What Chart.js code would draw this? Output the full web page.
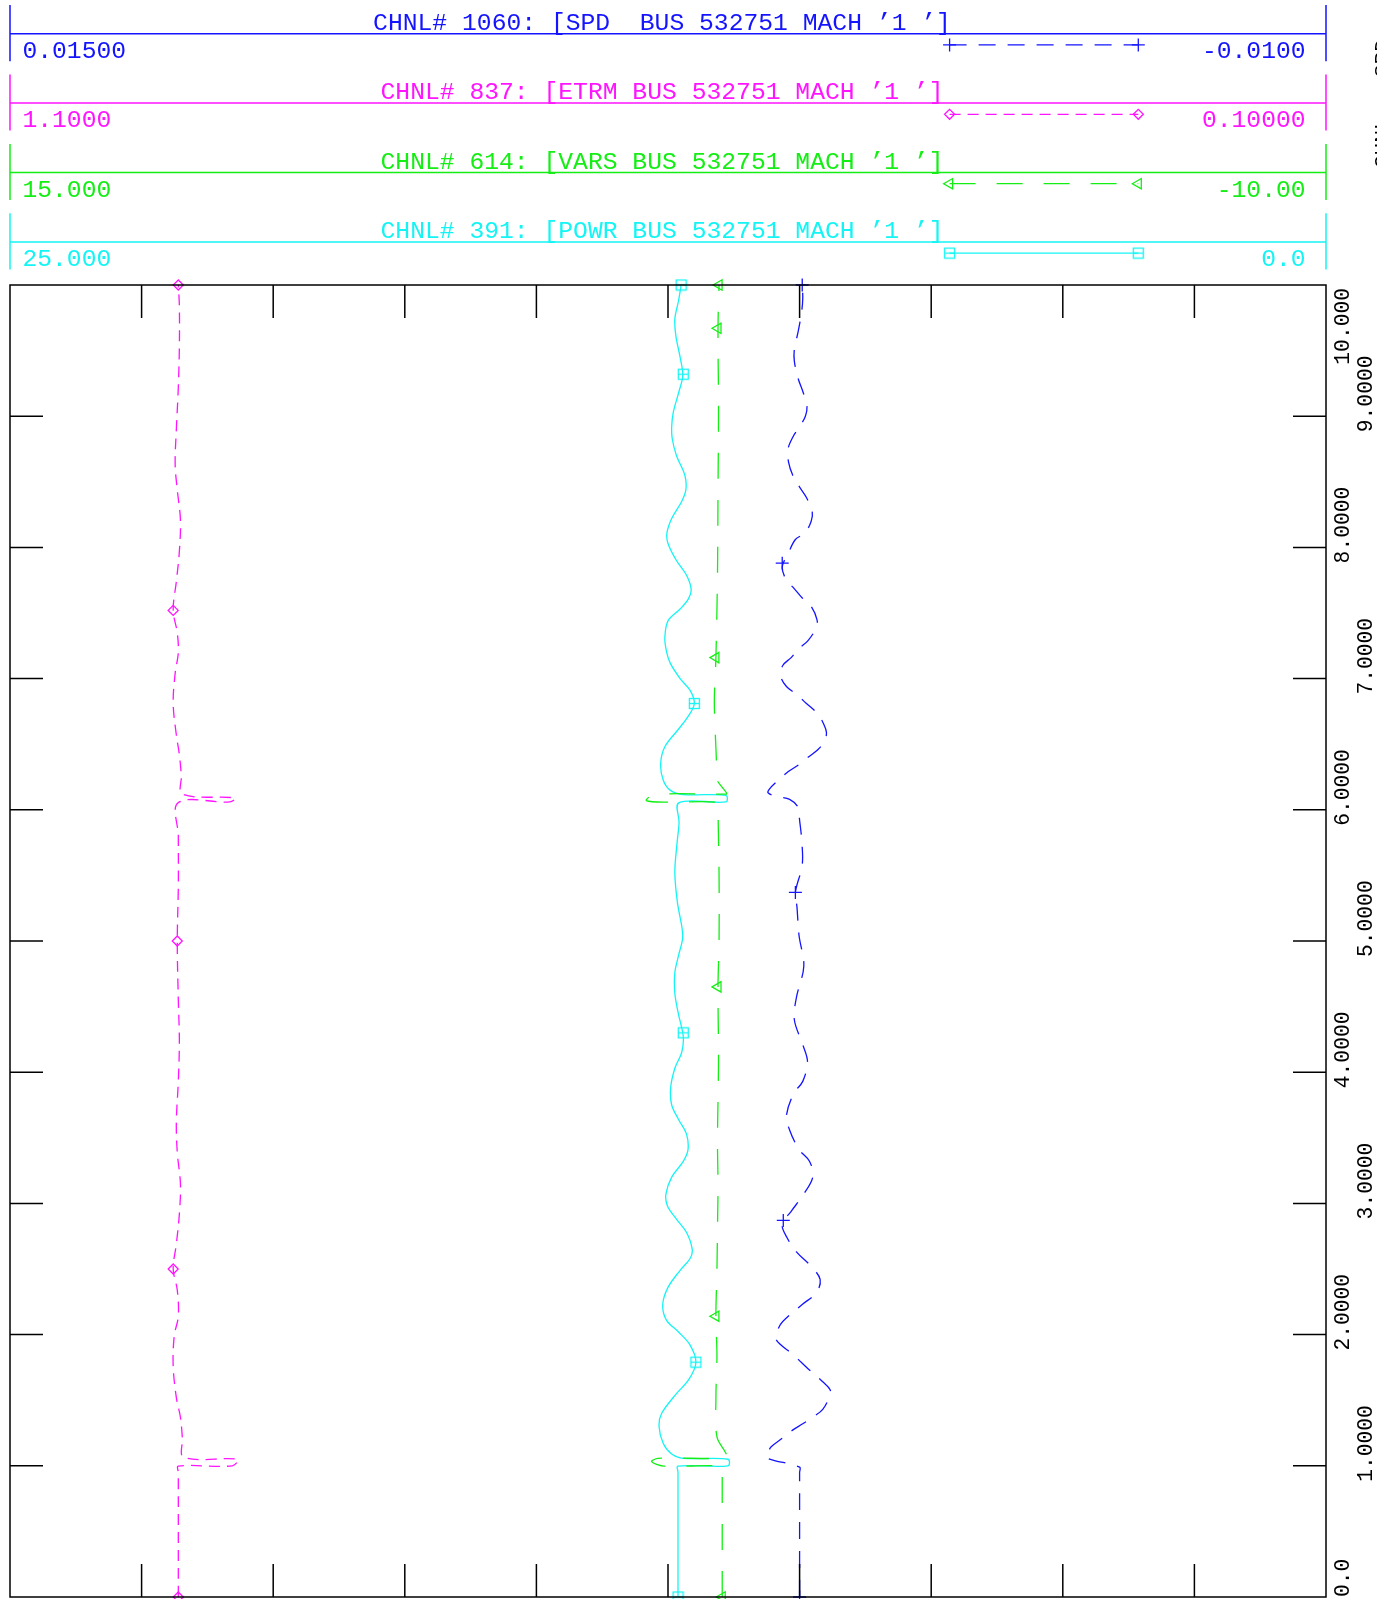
<!DOCTYPE html>
<html>
<head>
<meta charset="utf-8">
<title>CHNL plot</title>
<script src="https://cdn.jsdelivr.net/npm/chart.js@4.4.1/dist/chart.umd.min.js"></script>
<style>
  html, body { margin: 0; padding: 0; background: #fff; }
  #plot { display: block; }
</style>
</head>
<body>
<canvas id="plot" width="1377" height="1599"></canvas>
<script>
// channel header
var channelTitles = [
  "CHNL# 1060: [SPD  BUS 532751 MACH \u20191 \u2019]",
  "CHNL# 837: [ETRM BUS 532751 MACH \u20191 \u2019]",
  "CHNL# 614: [VARS BUS 532751 MACH \u20191 \u2019]",
  "CHNL# 391: [POWR BUS 532751 MACH \u20191 \u2019]"
];
var channelLeft = ['0.01500', '1.1000', '15.000', '25.000'];
var channelRight = ['-0.0100', '0.10000', '-10.00', '0.0'];
var axisLeft = [0.015, 1.1, 15, 25];
var axisRight = [-0.01, 0.1, -10, 0];

// time axis (seconds), drawn vertically
var timeTicks = [0, 1, 2, 3, 4, 5, 6, 7, 8, 9, 10];
var timeTickLabels = ['0.0', '1.0000', '2.0000', '3.0000', '4.0000', '5.0000', '6.0000', '7.0000', '8.0000', '9.0000', '10.000'];

// SPD
var spdTime = [0, 0.95, 0.99, 1.061, 1.10, 1.145, 1.21, 1.27, 1.32, 1.37, 1.43, 1.53, 1.58, 1.64, 1.74, 1.85, 1.93, 1.98, 2.05, 2.10,
  2.23, 2.32, 2.42, 2.52, 2.63, 2.74, 2.84, 2.94, 3.06, 3.20, 3.32, 3.41, 3.56, 3.67, 3.84, 3.93, 4.08, 4.21, 4.40, 4.57,
  4.81, 5.04, 5.26, 5.37, 5.58, 5.77, 5.92, 6.02, 6.08, 6.10, 6.13, 6.16, 6.22, 6.29, 6.34, 6.40, 6.46, 6.52, 6.59, 6.66,
  6.73, 6.81, 6.88, 6.94, 7.02, 7.10, 7.16, 7.23, 7.29, 7.39, 7.45, 7.55, 7.61, 7.69, 7.75, 7.85, 7.95, 8.06, 8.11, 8.20,
  8.27, 8.38, 8.46, 8.55, 8.65, 8.75, 8.84, 8.92, 9.00, 9.08, 9.19, 9.29, 9.42, 9.51, 9.64, 9.80, 9.90, 10.0];
var spdValue = [0, 0, 0, 0.00063, 0.00060, 0.00054, 0.00033, 0.00014, -0.00006, -0.00025, -0.00044, -0.00057, -0.00058, -0.00044, -0.00016, 0.00013, 0.00038, 0.00046, 0.00040, 0.00032,
  -0.00005, -0.00032, -0.00039, -0.00022, 0.00006, 0.00024, 0.00033, 0.00016, -0.00006, -0.00025, -0.00019, 0.00001, 0.00019, 0.00025, 0.00011, -0.00006, -0.00015, -0.00006, 0.00010, 0.00006,
  -0.00008, 0.00001, 0.00005, 0.00008, -0.00005, -0.00004, 0, 0.00003, 0.00019, 0.00042, 0.00060, 0.00057, 0.00042, 0.00022, 0.00003, -0.00016, -0.00035, -0.00047, -0.00051, -0.00045,
  -0.00035, -0.00013, 0.00006, 0.00025, 0.00036, 0.00032, 0.00016, 0.00001, -0.00016, -0.00032, -0.00033, -0.00022, -0.00006, 0.00011, 0.00025, 0.00033, 0.00022, 0.00008, -0.00010, -0.00022,
  -0.00024, -0.00013, 0, 0.00013, 0.00021, 0.00022, 0.00013, 0, -0.00011, -0.00014, -0.00006, 0.00003, 0.00010, 0.00010, 0.00003, -0.00004, -0.00006, -0.00005];
var spdMarkTime = [0, 2.87, 5.37, 7.88, 10];
var spdMarkValue = [0, 0.00031, 0.00008, 0.00033, -0.00005];

// ETRM
var etrmTime = [0, 0.95, 0.998, 1.0, 1.05, 1.065, 1.21, 1.37, 1.52, 1.76, 1.99, 2.14, 2.34, 2.50, 2.69, 2.92, 3.15, 3.39, 3.62, 3.93,
  4.24, 4.55, 5.0, 5.41, 5.80, 6.055, 6.06, 6.09, 6.12, 6.26, 6.42, 6.57, 6.81, 7.04, 7.20, 7.35, 7.52, 7.74, 7.97, 8.21,
  8.44, 8.63, 8.90, 9.22, 9.53, 9.84, 10];
var etrmValue = [0.9721, 0.9721, 0.9721, 0.931, 0.927, 0.968, 0.969, 0.9705, 0.9736, 0.976, 0.9752, 0.9721, 0.9729, 0.976, 0.9736, 0.9713, 0.9705, 0.9729, 0.9736, 0.9721,
  0.9713, 0.9721, 0.9729, 0.9721, 0.9721, 0.9721, 0.933, 0.929, 0.969, 0.9698, 0.9713, 0.9736, 0.976, 0.9745, 0.9721, 0.9729, 0.976, 0.9736, 0.9713, 0.9705,
  0.9729, 0.9745, 0.9736, 0.9721, 0.9713, 0.9713, 0.9721];
var etrmMarkTime = [0, 2.50, 5.0, 7.52, 10];
var etrmMarkValue = [0.9721, 0.976, 0.9729, 0.976, 0.9721];

// VARS
var varsTime = [0, 0.95, 0.996, 0.998, 1.031, 1.057, 1.06, 1.095, 1.22, 1.51, 1.84, 2.14, 2.49, 2.81, 3.14, 3.46, 3.79, 4.11, 4.65, 5.0,
  5.5, 6.0, 6.055, 6.058, 6.07, 6.116, 6.12, 6.13, 6.245, 6.35, 6.57, 6.83, 7.16, 7.79, 8.43, 9.07, 9.67, 10];
var varsValue = [1.47, 1.47, 1.47, 2.58, 2.81, 2.69, 1.40, 1.40, 1.57, 1.59, 1.57, 1.59, 1.57, 1.56, 1.55, 1.56, 1.55, 1.54, 1.55, 1.53,
  1.53, 1.55, 1.55, 2.46, 2.91, 2.75, 1.39, 1.39, 1.59, 1.58, 1.60, 1.62, 1.59, 1.56, 1.55, 1.54, 1.55, 1.53];
var varsMarkTime = [0, 2.14, 4.65, 7.16, 9.67, 10];
var varsMarkValue = [1.47, 1.59, 1.55, 1.59, 1.55, 1.53];

// POWR
var powrTime = [0, 0.95, 0.998, 1.0, 1.05, 1.057, 1.09, 1.17, 1.30, 1.40, 1.55, 1.66, 1.79, 1.92, 2.02, 2.11, 2.23, 2.36, 2.49, 2.58,
  2.65, 2.78, 2.88, 2.98, 3.07, 3.20, 3.32, 3.41, 3.53, 3.64, 3.75, 3.88, 4.03, 4.15, 4.27, 4.44, 4.60, 4.76, 4.89, 5.04,
  5.29, 5.52, 5.74, 5.90, 6.055, 6.06, 6.11, 6.116, 6.15, 6.225, 6.35, 6.48, 6.61, 6.71, 6.81, 6.91, 7.00, 7.12, 7.21, 7.31,
  7.44, 7.53, 7.61, 7.68, 7.79, 7.90, 8.03, 8.11, 8.22, 8.35, 8.44, 8.55, 8.70, 8.83, 8.92, 9.03, 9.19, 9.31, 9.45, 9.61,
  9.74, 9.88, 10.0];
var powrValue = [12.31, 12.31, 12.31, 11.36, 11.36, 12.21, 12.43, 12.59, 12.67, 12.62, 12.34, 12.10, 11.97, 12.08, 12.30, 12.53, 12.60, 12.50, 12.27, 12.08,
  12.04, 12.15, 12.34, 12.51, 12.54, 12.43, 12.21, 12.12, 12.15, 12.30, 12.43, 12.45, 12.37, 12.24, 12.21, 12.30, 12.37, 12.37, 12.30, 12.22,
  12.32, 12.37, 12.33, 12.29, 12.29, 11.40, 11.40, 12.21, 12.46, 12.59, 12.64, 12.56, 12.31, 12.12, 12.00, 12.08, 12.27, 12.46, 12.53, 12.56,
  12.50, 12.27, 12.11, 12.06, 12.15, 12.34, 12.50, 12.52, 12.43, 12.24, 12.16, 12.18, 12.34, 12.42, 12.43, 12.40, 12.29, 12.22, 12.27, 12.35,
  12.37, 12.30, 12.25];
var powrMarkTime = [0, 1.79, 4.30, 6.81, 9.32, 10];
var powrMarkValue = [12.31, 11.97, 12.21, 12.00, 12.21, 12.25];

var channelColors = ['#1414ff', '#ff14ff', '#14ee14', '#14f4f4'];
var channelDash = [[17, 12], [11, 7], [26, 21], []];
var axisIds = ['xSpd', 'xEtrm', 'xVars', 'xPowr'];
var font = '"Liberation Mono", "DejaVu Sans Mono", monospace';

var boxMark = function (color) {
  var c = document.createElement('canvas');
  c.width = 13;
  c.height = 13;
  var g = c.getContext('2d');
  g.strokeStyle = color;
  g.lineWidth = 1.3;
  g.strokeRect(1.5, 1.5, 10, 10);
  g.beginPath();
  g.moveTo(1.5, 6.5);
  g.lineTo(11.5, 6.5);
  g.stroke();
  return c;
};

var markStyles = [
  { pointStyle: 'cross', rotation: 0, radius: 6.5 },
  { pointStyle: 'rectRot', rotation: 0, radius: 5 },
  { pointStyle: 'triangle', rotation: -90, radius: 6 },
  { pointStyle: boxMark(channelColors[3]), rotation: 0, radius: 6 }
];

var pairs = function (times, values) {
  return times.map(function (t, i) {
    return { x: values[i], y: t };
  });
};

var lineSet = function (i, times, values) {
  return {
    data: pairs(times, values),
    xAxisID: axisIds[i],
    yAxisID: 'y',
    borderColor: channelColors[i],
    borderWidth: 1.3,
    borderDash: channelDash[i],
    tension: 0.35,
    pointRadius: 0,
    fill: false
  };
};

var markSet = function (i, times, values) {
  return {
    data: pairs(times, values),
    xAxisID: axisIds[i],
    yAxisID: 'y',
    showLine: false,
    clip: false,
    borderColor: channelColors[i],
    backgroundColor: 'rgba(0,0,0,0)',
    pointStyle: markStyles[i].pointStyle,
    pointRotation: markStyles[i].rotation,
    pointRadius: markStyles[i].radius,
    pointBorderWidth: 1.3
  };
};

var drawMark = function (ctx, i, x, y) {
  if (!Chart.helpers || !Chart.helpers.drawPoint) {
    return;
  }
  ctx.save();
  ctx.strokeStyle = channelColors[i];
  ctx.fillStyle = 'rgba(0,0,0,0)';
  ctx.lineWidth = 1.3;
  ctx.setLineDash([]);
  Chart.helpers.drawPoint(ctx, {
    pointStyle: markStyles[i].pointStyle,
    rotation: markStyles[i].rotation,
    radius: markStyles[i].radius,
    borderWidth: 1.3
  }, x, y);
  ctx.restore();
};

var headerPlugin = {
  id: 'channelHeader',
  afterDraw: function (chart) {
    var ctx = chart.ctx;
    var a = chart.chartArea;
    ctx.save();
    channelTitles.forEach(function (title, i) {
      var y0 = 33.7 + i * 69.4;
      var color = channelColors[i];
      ctx.strokeStyle = color;
      ctx.fillStyle = color;
      ctx.lineWidth = 1.5;
      ctx.setLineDash([]);
      ctx.beginPath();
      ctx.moveTo(a.left, y0);
      ctx.lineTo(a.right, y0);
      ctx.moveTo(a.left, y0 - 28.6);
      ctx.lineTo(a.left, y0 + 27.5);
      ctx.moveTo(a.right, y0 - 28.6);
      ctx.lineTo(a.right, y0 + 27.5);
      ctx.stroke();

      ctx.font = '24.7px ' + font;
      ctx.textBaseline = 'alphabetic';
      ctx.textAlign = 'center';
      ctx.fillText(title, 662, y0 - 4);
      ctx.textAlign = 'left';
      ctx.fillText(channelLeft[i], 22.4, y0 + 24.3);
      ctx.textAlign = 'right';
      ctx.fillText(channelRight[i], 1305.6, y0 + 24.3);

      var ly = y0 + 11.2;
      ctx.lineWidth = 1.3;
      ctx.setLineDash(channelDash[i]);
      ctx.beginPath();
      ctx.moveTo(949.6, ly);
      ctx.lineTo(1138.3, ly);
      ctx.stroke();
      drawMark(ctx, i, 949.6, ly);
      drawMark(ctx, i, 1138.3, ly);
    });

    // clipped side caption at the right edge
    ctx.fillStyle = '#000';
    ctx.font = '21px ' + font;
    ctx.textAlign = 'left';
    [['SPD', 77], ['CHNL', 168]].forEach(function (s) {
      ctx.save();
      ctx.translate(1388, s[1]);
      ctx.rotate(-Math.PI / 2);
      ctx.fillText(s[0], 0, 0);
      ctx.restore();
    });
    ctx.restore();
  }
};

var framePlugin = {
  id: 'frame',
  afterDatasetsDraw: function (chart) {
    var ctx = chart.ctx;
    var a = chart.chartArea;
    var ys = chart.scales.y;
    var xs = chart.scales.xPowr;
    var tickLen = 33;
    ctx.save();
    ctx.strokeStyle = '#000';
    ctx.lineWidth = 1.5;
    ctx.setLineDash([]);
    ctx.strokeRect(a.left, a.top, a.right - a.left, a.bottom - a.top);
    ctx.beginPath();
    for (var k = 1; k < 10; k++) {
      var px = xs.getPixelForValue(axisLeft[3] - k * (axisLeft[3] - axisRight[3]) / 10);
      ctx.moveTo(px, a.top);
      ctx.lineTo(px, a.top + tickLen);
      ctx.moveTo(px, a.bottom);
      ctx.lineTo(px, a.bottom - tickLen);
    }
    timeTicks.forEach(function (t) {
      if (t === ys.min || t === ys.max) {
        return;
      }
      var py = ys.getPixelForValue(t);
      ctx.moveTo(a.left, py);
      ctx.lineTo(a.left + tickLen, py);
      ctx.moveTo(a.right, py);
      ctx.lineTo(a.right - tickLen, py);
    });
    ctx.stroke();

    ctx.fillStyle = '#000';
    ctx.font = '21.3px ' + font;
    ctx.textAlign = 'left';
    ctx.textBaseline = 'alphabetic';
    timeTicks.forEach(function (t, i) {
      var label = timeTickLabels[i];
      var w = ctx.measureText(label).width;
      var py = ys.getPixelForValue(t);
      var start = py + 16;
      if (start - w < a.top + 3) {
        start = a.top + 3 + w;
      }
      if (start > a.bottom) {
        start = a.bottom;
      }
      ctx.save();
      ctx.translate(i % 2 === 0 ? 1349 : 1372, start);
      ctx.rotate(-Math.PI / 2);
      ctx.fillText(label, 0, 0);
      ctx.restore();
    });
    ctx.restore();
  }
};

var valueScale = function (i) {
  return {
    type: 'linear',
    axis: 'x',
    min: axisRight[i],
    max: axisLeft[i],
    reverse: true,
    display: false
  };
};

var chart = new Chart(document.getElementById('plot'), {
  type: 'line',
  data: {
    datasets: [
      lineSet(0, spdTime, spdValue),
      lineSet(1, etrmTime, etrmValue),
      lineSet(2, varsTime, varsValue),
      lineSet(3, powrTime, powrValue),
      markSet(0, spdMarkTime, spdMarkValue),
      markSet(1, etrmMarkTime, etrmMarkValue),
      markSet(2, varsMarkTime, varsMarkValue),
      markSet(3, powrMarkTime, powrMarkValue)
    ]
  },
  options: {
    responsive: false,
    animation: false,
    devicePixelRatio: 1,
    indexAxis: 'y',
    layout: { autoPadding: false, padding: { left: 10, top: 285, right: 51, bottom: 2 } },
    scales: {
      x: { display: false },
      y: { type: 'linear', min: 0, max: 10, display: false },
      xSpd: valueScale(0),
      xEtrm: valueScale(1),
      xVars: valueScale(2),
      xPowr: valueScale(3)
    },
    plugins: {
      legend: { display: false },
      tooltip: { enabled: false }
    }
  },
  plugins: [framePlugin, headerPlugin]
});
</script>
</body>
</html>
